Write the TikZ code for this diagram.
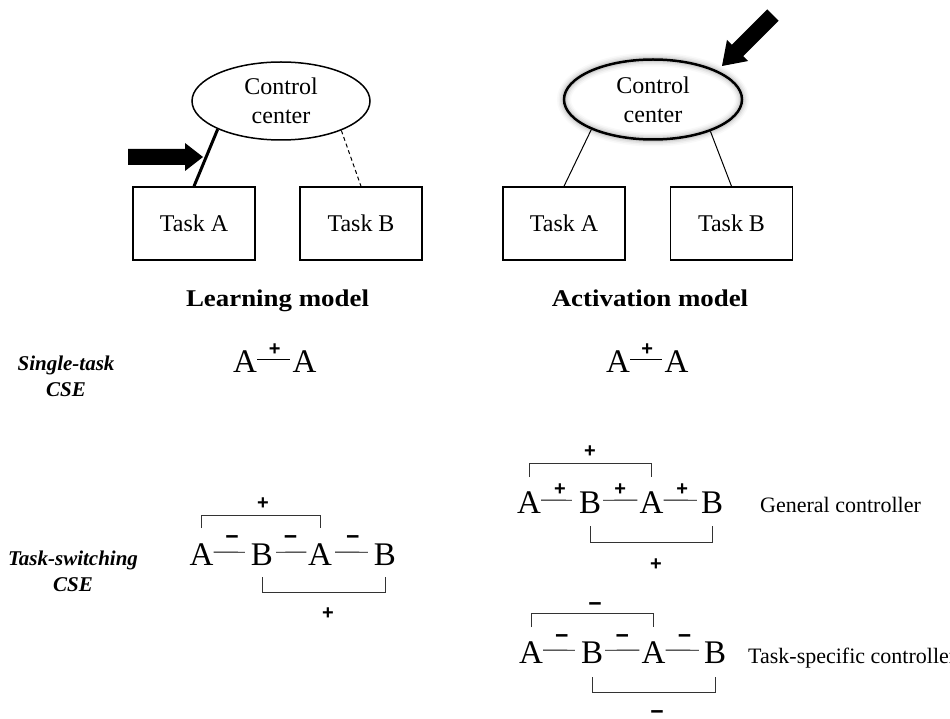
\documentclass[tikz,border=0pt]{standalone}
\usepackage{fontspec}
\setmainfont{Liberation Serif}
\newfontfamily\signfont{Liberation Sans}
\newfontfamily\titlefont[FakeStretch=1.12]{Liberation Serif}
\usetikzlibrary{shapes.geometric,calc}
\begin{document}
\begin{tikzpicture}[x=1pt,y=-1pt,
  ctrl/.style={ellipse, draw, line width=1.5pt, minimum width=178pt, minimum height=78pt, inner sep=0pt, align=center, font=\fontsize{24}{29}\selectfont},
  taskbox/.style={draw, line width=1.5pt, minimum width=122pt, minimum height=73pt, inner sep=0pt, font=\fontsize{24}{28}\selectfont},
  title/.style={font=\titlefont\bfseries\fontsize{24}{28}\selectfont, anchor=base, inner sep=0pt},
  rowlabel/.style={font=\bfseries\itshape\fontsize{21}{26}\selectfont, align=center, inner sep=0pt},
  letter/.style={font=\fontsize{33}{36}\selectfont, inner sep=0pt, anchor=base},
  sgn/.style={font=\signfont\bfseries\fontsize{20}{22}\selectfont, inner sep=0pt, anchor=base},
  msgn/.style={font=\signfont\bfseries\fontsize{23}{24}\selectfont, inner sep=0pt, anchor=base},
  link/.style={line width=0.9pt},
  brk/.style={line width=0.9pt, draw=black!80},
  side/.style={font=\fontsize{22}{26}\selectfont, anchor=base west, inner sep=0pt},
]
\useasboundingbox[fill=white] (0,0) rectangle (950,719);

% ---------- Learning model ----------
\node[ctrl] (ctrlL) at (281,101) {Control\\center};
\node[taskbox] (taskAL) at (194,223.5) {Task A};
\node[taskbox] (taskBL) at (361,223.5) {Task B};
\draw[line width=3pt] (ctrlL.204) -- (taskAL.north);
\draw[line width=1pt, dash pattern=on 4pt off 3pt] (ctrlL.334) -- (taskBL.north);
\fill (128,149) -- (185,149) -- (185,143) -- (203,157) -- (185,171) -- (185,165) -- (128,165) -- cycle;
\node[title] (learn) at (277.5,306) {Learning model};

% ---------- Activation model ----------
\foreach \w/\o in {14/0.025, 11/0.035, 8/0.05, 5/0.08} {
  \draw[line width=\w pt, black, opacity=\o] (653,99.5) ellipse [x radius=89, y radius=40];
}
\node[ctrl, line width=2.5pt, minimum height=80pt] (ctrlR) at (653,99.5) {Control\\center};
\node[taskbox] (taskAR) at (564,223.5) {Task A};
\node[taskbox] (taskBR) at (731.5,223.5) {Task B};
\draw[line width=1pt] (ctrlR.206) -- (taskAR.north);
\draw[line width=1pt] (ctrlR.331) -- (taskBR.north);
\fill (722,66) -- (748.2,61.0) -- (743.3,56.1) -- (778.6,20.8) -- (767.2,9.4) -- (731.9,44.7) -- (727.0,39.8) -- cycle;
\node[title] (act) at (650,306) {Activation model};

% ---------- Row labels ----------
\node[rowlabel] (single) at (66,376) {Single-task\\CSE};
\node[rowlabel] (switch) at (73,571) {Task-switching\\CSE};

% ---------- Single-task, learning ----------
\node[letter] (s1) at (245,372) {A};
\node[letter] (s2) at (304.5,372) {A};
\draw[link, shorten >=2pt] ([yshift=2pt]s1.east) -- node[sgn, midway, yshift=4pt] {+} ([yshift=2pt]s2.west);

% ---------- Single-task, activation ----------
\node[letter] (r1) at (618,372) {A};
\node[letter] (r2) at (676.5,372) {A};
\draw[link, shorten >=2pt] ([yshift=2pt]r1.east) -- node[sgn, midway, yshift=4pt] {+} ([yshift=2pt]r2.west);

% ---------- Task-switching, learning ----------
\node[letter] (t1) at (201.5,565) {A};
\node[letter] (t2) at (262,565) {B};
\node[letter] (t3) at (320,565) {A};
\node[letter] (t4) at (385,565) {B};
\draw[link, shorten >=6pt] ([yshift=2pt]t1.east) -- node[msgn, midway, yshift=8pt] {−} ([yshift=2pt]t2.west);
\draw[link, shorten <=3pt, shorten >=1.5pt] ([yshift=2pt]t2.east) -- node[msgn, midway, yshift=8pt] {−} ([yshift=2pt]t3.west);
\draw[link, shorten <=3pt, shorten >=6pt] ([yshift=2pt]t3.east) -- node[msgn, midway, yshift=8pt] {−} ([yshift=2pt]t4.west);
\draw[brk] (t1 |- 0,528) -- (t1 |- 0,515) -- (t3 |- 0,515) -- (t3 |- 0,528);
\node[sgn] (t13) at (263,509) {+};
\draw[brk] (t2 |- 0,577) -- (t2 |- 0,592) -- (t4 |- 0,592) -- (t4 |- 0,577);
\node[sgn] (t24) at (328,619) {+};

% ---------- General controller ----------
\node[letter] (g1) at (529,513) {A};
\node[letter] (g2) at (590,513) {B};
\node[letter] (g3) at (651.5,513) {A};
\node[letter] (g4) at (712,513) {B};
\draw[link, shorten >=7pt] ([yshift=2pt]g1.east) -- node[sgn, midway, yshift=5pt] {+} ([yshift=2pt]g2.west);
\draw[link, shorten <=2pt, shorten >=2pt] ([yshift=2pt]g2.east) -- node[sgn, midway, yshift=5pt] {+} ([yshift=2pt]g3.west);
\draw[link, shorten >=4pt] ([yshift=2pt]g3.east) -- node[sgn, midway, yshift=5pt] {+} ([yshift=2pt]g4.west);
\draw[brk] (g1 |- 0,477) -- (g1 |- 0,463) -- (g3 |- 0,463) -- (g3 |- 0,477);
\node[sgn] (g13) at (590,457) {+};
\draw[brk] (g2 |- 0,526) -- (g2 |- 0,542) -- (g4 |- 0,542) -- (g4 |- 0,526);
\node[sgn] (g24) at (656,570) {+};
\node[side] (gen) at (760,512) {General controller};

% ---------- Task-specific controller ----------
\node[letter] (k1) at (531,663) {A};
\node[letter] (k2) at (592,663) {B};
\node[letter] (k3) at (653.5,663) {A};
\node[letter] (k4) at (715,663) {B};
\draw[link, shorten >=6pt] ([yshift=2pt]k1.east) -- node[msgn, midway, yshift=7pt] {−} ([yshift=2pt]k2.west);
\draw[link, shorten <=2pt, shorten >=2pt] ([yshift=2pt]k2.east) -- node[msgn, midway, yshift=7pt] {−} ([yshift=2pt]k3.west);
\draw[link, shorten >=5pt] ([yshift=2pt]k3.east) -- node[msgn, midway, yshift=7pt] {−} ([yshift=2pt]k4.west);
\draw[brk] (k1 |- 0,627) -- (k1 |- 0,613) -- (k3 |- 0,613) -- (k3 |- 0,627);
\node[msgn] (k13) at (595,611) {−};
\draw[brk] (k2 |- 0,677) -- (k2 |- 0,692) -- (k4 |- 0,692) -- (k4 |- 0,677);
\node[msgn] (k24) at (657,719) {−};
\node[side] (spec) at (748,663) {Task-specific controller};
\end{tikzpicture}
\end{document}
